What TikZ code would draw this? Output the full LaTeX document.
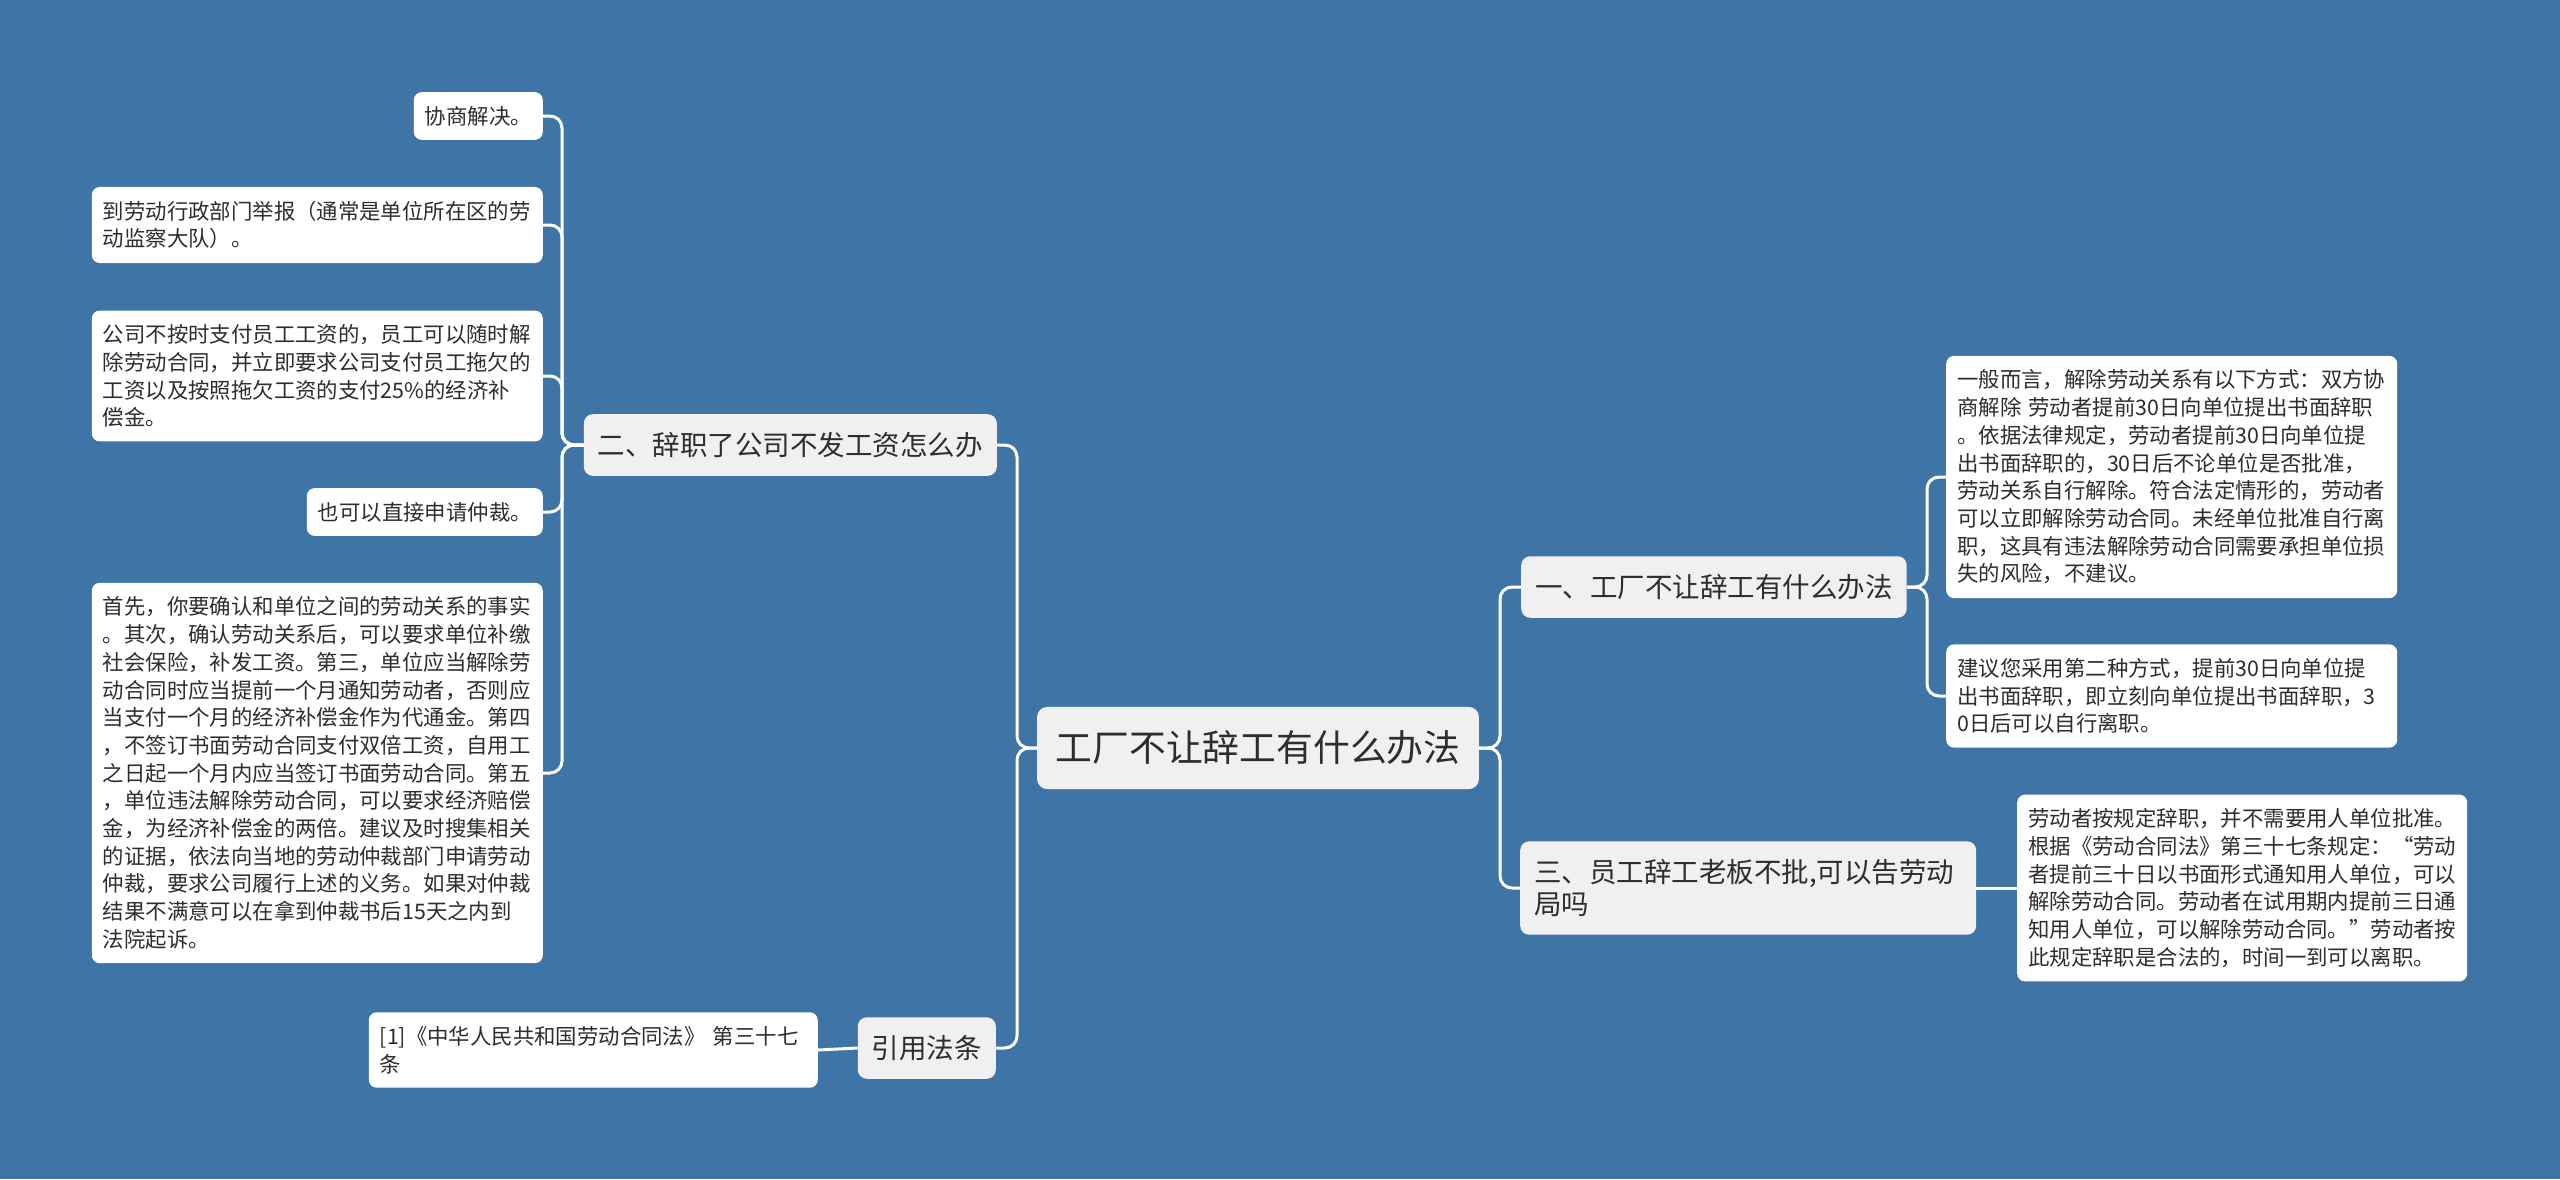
\documentclass[tikz,border=0pt]{standalone}
\usepackage{fontspec}
\setmainfont{Noto Sans CJK SC}
\definecolor{bg}{RGB}{62,116,166}
\definecolor{branchfill}{RGB}{240,240,240}
\definecolor{txt}{RGB}{45,45,45}
\tikzset{
 leaf/.style={fill=white, rounded corners=8pt, inner xsep=11pt, inner ysep=14pt, align=left, text=txt, font=\fontsize{21.4pt}{27.7pt}\selectfont},
 branch/.style={fill=branchfill, rounded corners=9pt, inner xsep=14pt, inner ysep=18pt, align=left, text=txt, font=\fontsize{27.5pt}{32pt}\selectfont},
 rootnode/.style={fill=branchfill, rounded corners=10pt, inner xsep=18.5pt, inner ysep=24pt, text=txt, font=\fontsize{36.8pt}{44pt}\selectfont},
 conn/.style={draw=white, line width=3pt, rounded corners=12pt},
}
\begin{document}
\begin{tikzpicture}[x=1pt,y=-1pt]
\fill[bg] (0,0) rectangle (2560,1179);
\useasboundingbox (0,0) rectangle (2560,1179);

% trunk coordinates
\coordinate (lt) at (1017,0);
\coordinate (lt2) at (562,0);
\coordinate (rt) at (1500,0);
\coordinate (rt2) at (1927,0);

% root
\node[rootnode] (root) at (1258,748) {工厂不让辞工有什么办法};

% branches
\node[branch, anchor=east] (er) at (997,445) {二、辞职了公司不发工资怎么办};
\node[branch, anchor=east] (yy) at (996,1048) {引用法条};
\node[branch, anchor=west] (one) at (1521,587) {一、工厂不让辞工有什么办法};
\node[branch, anchor=west, text width=428pt] (three) at (1520,888) {三、员工辞工老板不批,可以告劳动\\局吗};

% left leaves
\node[leaf, anchor=east, text width=107pt] (l1) at (543,116) {协商解决。};
\node[leaf, anchor=east, text width=429pt] (l2) at (543,225) {到劳动行政部门举报（通常是单位所在区的劳\\动监察大队）。};
\node[leaf, anchor=east, text width=429pt] (l3) at (543,376) {公司不按时支付员工工资的，员工可以随时解\\除劳动合同，并立即要求公司支付员工拖欠的\\工资以及按照拖欠工资的支付25\%的经济补\\偿金。};
\node[leaf, anchor=east, text width=214pt] (l4) at (543,512) {也可以直接申请仲裁。};
\node[leaf, anchor=east, text width=429pt] (l5) at (543,773) {首先，你要确认和单位之间的劳动关系的事实\\。其次，确认劳动关系后，可以要求单位补缴\\社会保险，补发工资。第三，单位应当解除劳\\动合同时应当提前一个月通知劳动者，否则应\\当支付一个月的经济补偿金作为代通金。第四\\，不签订书面劳动合同支付双倍工资，自用工\\之日起一个月内应当签订书面劳动合同。第五\\，单位违法解除劳动合同，可以要求经济赔偿\\金，为经济补偿金的两倍。建议及时搜集相关\\的证据，依法向当地的劳动仲裁部门申请劳动\\仲裁，要求公司履行上述的义务。如果对仲裁\\结果不满意可以在拿到仲裁书后15天之内到\\法院起诉。};
\node[leaf, anchor=east, text width=427pt] (l6) at (818,1050) {[1]《中华人民共和国劳动合同法》 第三十七\\条};

% right leaves
\node[leaf, anchor=west, text width=429pt] (ra) at (1946,477) {一般而言，解除劳动关系有以下方式：双方协\\商解除 劳动者提前30日向单位提出书面辞职\\。依据法律规定，劳动者提前30日向单位提\\出书面辞职的，30日后不论单位是否批准，\\劳动关系自行解除。符合法定情形的，劳动者\\可以立即解除劳动合同。未经单位批准自行离\\职，这具有违法解除劳动合同需要承担单位损\\失的风险，不建议。};
\node[leaf, anchor=west, text width=429pt] (rb) at (1946,696) {建议您采用第二种方式，提前30日向单位提\\出书面辞职，即立刻向单位提出书面辞职，3\\0日后可以自行离职。};
\node[leaf, anchor=west, text width=428pt] (rc) at (2017,888) {劳动者按规定辞职，并不需要用人单位批准。\\根据《劳动合同法》第三十七条规定：“劳动\\者提前三十日以书面形式通知用人单位，可以\\解除劳动合同。劳动者在试用期内提前三日通\\知用人单位，可以解除劳动合同。”劳动者按\\此规定辞职是合法的，时间一到可以离职。};

% connectors: root
\draw[conn] (root.west) -- (root.west -| lt) -- (er.east -| lt) -- (er.east);
\draw[conn] (root.west) -- (root.west -| lt) -- (yy.east -| lt) -- (yy.east);
\draw[conn] (root.east) -- (root.east -| rt) -- (one.west -| rt) -- (one.west);
\draw[conn] (root.east) -- (root.east -| rt) -- (three.west -| rt) -- (three.west);

% connectors: er
\foreach \c in {l1,l2,l3,l4,l5}{
  \draw[conn] (er.west) -- (er.west -| lt2) -- (\c.east -| lt2) -- (\c.east);
}
% connectors: one
\foreach \c in {ra,rb}{
  \draw[conn] (one.east) -- (one.east -| rt2) -- (\c.west -| rt2) -- (\c.west);
}
\draw[conn] (three.east) -- (rc.west);
\draw[conn] (yy.west) -- (l6.east);
\end{tikzpicture}
\end{document}
